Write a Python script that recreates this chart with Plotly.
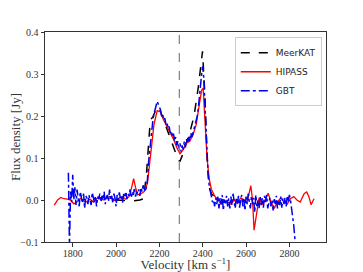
import plotly.graph_objects as go

# ---------------- data ----------------
meerkat_v = [2000, 2040, 2080, 2110, 2127, 2140, 2150, 2158, 2170, 2180, 2190, 2200,
             2220, 2240, 2260, 2280, 2294, 2305, 2320, 2340, 2360, 2380, 2399, 2410,
             2420, 2430, 2440, 2460, 2480, 2500]
meerkat_f = [0.0, -0.001, -0.002, 0.0, 0.003, 0.06, 0.13, 0.19, 0.198, 0.21, 0.222, 0.218,
             0.19, 0.16, 0.13, 0.105, 0.091, 0.105, 0.13, 0.16, 0.2, 0.27, 0.354, 0.25,
             0.1, 0.03, 0.015, 0.005, 0.0, 0.0]

hipass_v = [1715, 1730, 1745, 1760, 1775, 1790, 1805, 1820, 1835, 1850, 1865, 1880,
            1895, 1910, 1925, 1940, 1955, 1970, 1985, 2000, 2015, 2030, 2045, 2060,
            2072, 2081, 2090, 2100, 2115, 2130, 2145, 2160, 2175, 2190, 2205, 2220,
            2235, 2250, 2265, 2280, 2295, 2310, 2325, 2340, 2355, 2370, 2385, 2395,
            2402, 2410, 2420, 2430, 2440, 2455, 2470, 2485, 2500, 2515, 2530, 2545,
            2560, 2575, 2590, 2605, 2622, 2630, 2637, 2648, 2660, 2675, 2688, 2702,
            2715, 2730, 2745, 2760, 2775, 2790, 2805, 2820, 2835, 2850, 2868, 2880,
            2890, 2900, 2914]
hipass_f = [-0.012, 0.0, 0.006, 0.003, 0.002, 0.0, -0.009, -0.004, 0.004, -0.002, -0.004, 0.002,
            -0.005, 0.003, 0.006, 0.0, 0.004, 0.008, 0.002, -0.003, 0.005, 0.008, 0.002, 0.008,
            0.03, 0.051, 0.03, 0.012, 0.015, 0.02, 0.04, 0.11, 0.18, 0.213, 0.21, 0.19,
            0.175, 0.16, 0.145, 0.125, 0.11, 0.12, 0.135, 0.14, 0.155, 0.18, 0.23, 0.262,
            0.266, 0.2, 0.1, 0.05, 0.025, 0.01, 0.0, -0.01, 0.0, -0.005, -0.01, 0.0,
            -0.008, 0.005, 0.0, -0.005, 0.034, 0.0, -0.072, -0.03, 0.005, -0.01, 0.0, 0.016,
            -0.005, -0.02, -0.005, 0.005, -0.005, -0.01, 0.003, 0.008, 0.0, -0.005, 0.015, 0.019,
            0.008, -0.011, 0.003]

gbt_v_start = 1780
gbt_v_step = 5
gbt_f = [
    0.065, -0.11, 0.02, -0.005, 0.06, 0.0, 0.03, -0.012, 0.025, 0.005,
    -0.015, 0.02, 0.0, -0.008, 0.015, -0.02, 0.01, 0.005, -0.01, 0.012,
    0.0, -0.012, 0.018, 0.004, -0.006, 0.01, -0.015, 0.008, 0.002, 0.015,
    -0.005, 0.01, 0.0, 0.02, -0.01, 0.006, 0.012, -0.004, 0.025, 0.0,
    0.01, -0.008, 0.015, 0.005, -0.015, 0.012, 0.0, 0.018, 0.004, 0.01,
    -0.006, 0.014, 0.008, 0.02, 0.002, 0.015, 0.01, 0.025, 0.005, 0.02,
    0.012, 0.03, 0.008, 0.02, 0.015, 0.025, 0.01, 0.03, 0.02, 0.035,
    0.025, 0.02, 0.03, 0.05, 0.09, 0.12, 0.15, 0.17, 0.19, 0.205,
    0.215, 0.225, 0.235, 0.228, 0.222, 0.215, 0.2, 0.205, 0.19, 0.195,
    0.18, 0.185, 0.17, 0.175, 0.16, 0.165, 0.15, 0.158, 0.14, 0.15,
    0.13, 0.14, 0.12, 0.135, 0.115, 0.13, 0.12, 0.14, 0.125, 0.145,
    0.135, 0.15, 0.14, 0.16, 0.15, 0.165, 0.17, 0.18, 0.19, 0.2,
    0.22, 0.25, 0.28, 0.3, 0.318, 0.29, 0.23, 0.16, 0.1, 0.06,
    0.035, 0.02, 0.01, -0.005, 0.0, -0.015, 0.005, -0.01, 0.01, -0.02,
    0.005, -0.01, 0.012, -0.025, 0.0, -0.008, 0.01, -0.015, 0.004, -0.02,
    0.008, -0.012, 0.015, -0.005, -0.02, 0.006, -0.01, 0.01, -0.018, 0.0,
    0.012, -0.015, 0.005, -0.025, 0.008, -0.01, 0.015, -0.005, -0.02, 0.01,
    -0.01, 0.005, -0.03, 0.012, -0.015, 0.0, -0.02, 0.008, -0.012, 0.005,
    -0.018, 0.01, -0.005, 0.012, -0.02, -0.008, 0.005, -0.015, 0.0, -0.025,
    0.005, -0.01, 0.01, -0.02, 0.0, -0.012, 0.008, -0.018, 0.004, -0.01,
    0.006, -0.015, 0.01, -0.005, 0.012, 0.0, -0.02, -0.035, -0.06, -0.09,
    -0.12,
]
gbt_v = [gbt_v_start + gbt_v_step * i for i in range(len(gbt_f))]

systemic_v = 2292

x_ticks = [1800, 2000, 2200, 2400, 2600, 2800]
y_ticks = [-0.1, 0.0, 0.1, 0.2, 0.3, 0.4]
y_tick_labels = ["\u22120.1", "0.0", "0.1", "0.2", "0.3", "0.4"]

# ---------------- figure ----------------
fig = go.Figure()
fig.add_trace(go.Scatter(x=meerkat_v, y=meerkat_f, mode="lines", name="MeerKAT",
                         line=dict(color="black", width=1.5, dash="dash")))
fig.add_trace(go.Scatter(x=hipass_v, y=hipass_f, mode="lines", name="HIPASS",
                         line=dict(color="red", width=1.3)))
fig.add_trace(go.Scatter(x=gbt_v, y=gbt_f, mode="lines", name="GBT",
                         line=dict(color="#0000ee", width=1.5, dash="dashdot")))

fig.add_vline(x=systemic_v, line=dict(color="gray", width=1.2, dash="dash"))

serif = "Liberation Serif, DejaVu Serif, serif"
axis_common = dict(showline=True, mirror=True, linecolor="#333", linewidth=1,
                   ticks="outside", ticklen=3.5, tickwidth=1, tickcolor="#333",
                   showgrid=False, zeroline=False, automargin=False,
                   tickfont=dict(family=serif, size=10, color="#333"))

fig.update_xaxes(range=[1672, 2969], tickvals=x_ticks, ticklabelstandoff=-2,
                 title=dict(text="Velocity [km s<sup>\u22121</sup>]",
                            font=dict(family=serif, size=13, color="#333"), standoff=6),
                 **axis_common)
fig.update_yaxes(range=[-0.1, 0.4], tickvals=y_ticks, ticktext=y_tick_labels,
                 title=dict(text="Flux density [Jy]",
                            font=dict(family=serif, size=13, color="#333"), standoff=7),
                 **axis_common)

# the page body adds an 8 px offset, so the figure is sized to fit the window
fig.update_layout(
    width=355, height=264,
    margin=dict(l=37, r=37, t=24, b=30),
    paper_bgcolor="white", plot_bgcolor="white",
    showlegend=True,
    legend=dict(x=0.985, y=0.975, xanchor="right", yanchor="top",
                bgcolor="rgba(255,255,255,0.9)", bordercolor="#ccc", borderwidth=1,
                font=dict(family="DejaVu Sans, sans-serif", size=9, color="#222"),
                tracegroupgap=0, itemwidth=30),
)

fig.write_html("out.html")
